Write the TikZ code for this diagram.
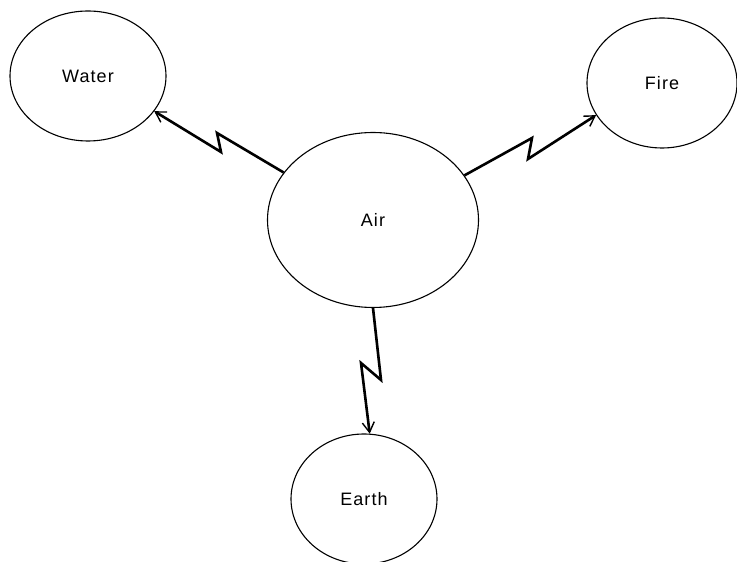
\documentclass[tikz,border=0pt]{standalone}
\usepackage{fontspec}
\setmainfont{Liberation Sans}[LetterSpace=6]
\usetikzlibrary{shapes.geometric,arrows.meta}
\begin{document}
\begin{tikzpicture}[x=1pt,y=1pt,
  elem/.style={draw,ellipse,line width=1.1pt,inner sep=0pt,font=\fontsize{18}{21}\selectfont},
  zig/.style={line width=2.6pt,line join=miter,-{Straight Barb[length=10pt,width=12pt,line width=1.4pt]}}]
\useasboundingbox (0,0) rectangle (737,562);
\node[elem,minimum width=156pt,minimum height=130pt] (water) at (88,486) {Water};
\node[elem,minimum width=150pt,minimum height=130pt] (fire) at (662,479) {Fire};
\node[elem,minimum width=211pt,minimum height=175pt] (air) at (373,342) {Air};
\node[elem,minimum width=146pt,minimum height=130pt] (earth) at (364,63) {Earth};
\coordinate (w1) at (221,410);
\coordinate (w2) at (217,429);
\coordinate (f1) at (532,424);
\coordinate (f2) at (528,403);
\coordinate (e1) at (381,182);
\coordinate (e2) at (361,199);
\draw[zig] (air.152) -- (w2) -- (w1) -- (water.-28);
\draw[zig] (air.26) -- (f1) -- (f2) -- (fire.206);
\draw[zig] (air.-90) -- (e1) -- (e2) -- (earth.85);
\end{tikzpicture}
\end{document}
